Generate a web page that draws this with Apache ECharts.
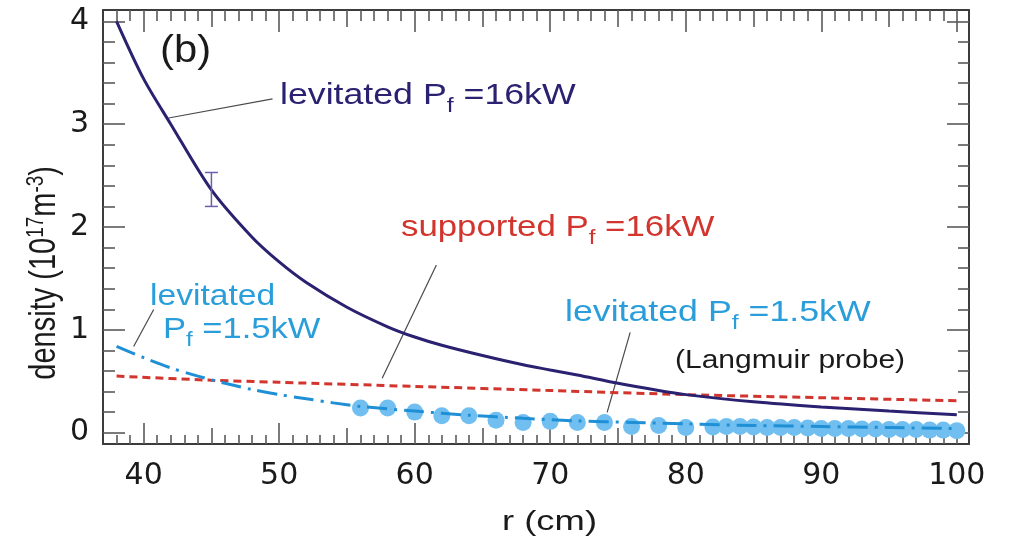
<!DOCTYPE html>
<html>
<head>
<meta charset="utf-8">
<script src="https://cdn.jsdelivr.net/npm/echarts@6/dist/echarts.min.js"></script>
<style>
  html, body { margin: 0; padding: 0; background: #ffffff; }
  #chart { width: 1009px; height: 536px; }
</style>
</head>
<body>
<div id="chart"></div>
<script>
// Radial density profiles, r in cm, density in 1e17 m^-3

// levitated, Pf = 16 kW (solid)
const rLev16 = [38, 40, 42, 45, 48, 50, 52, 55, 58, 60, 62, 65, 68, 70, 72, 75, 78, 80, 85, 90, 95, 100];
const nLev16 = [4.00, 3.44, 3.00, 2.36, 1.90, 1.66, 1.46, 1.22, 1.03, 0.93, 0.85, 0.75, 0.66, 0.61, 0.56, 0.48, 0.41, 0.37, 0.30, 0.25, 0.21, 0.175];

// supported, Pf = 16 kW (dashed)
const rSup16 = [38, 45, 50, 60, 70, 80, 90, 100];
const nSup16 = [0.55, 0.51, 0.49, 0.45, 0.41, 0.37, 0.34, 0.31];

// levitated, Pf = 1.5 kW (dash-dot)
const rLev15 = [38, 40, 42, 44, 46, 48, 50, 52, 54, 56, 60, 64, 68, 72, 76, 80, 85, 90, 95, 100];
const nLev15 = [0.84, 0.73, 0.63, 0.55, 0.48, 0.42, 0.37, 0.33, 0.29, 0.255, 0.21, 0.17, 0.14, 0.115, 0.10, 0.085, 0.07, 0.06, 0.05, 0.04];

// levitated, Pf = 1.5 kW, Langmuir probe points
const rProbe = [56, 58, 60, 62, 64, 66, 68, 70, 72, 74, 76, 78, 80, 82, 83, 84, 85, 86, 87, 88, 89, 90, 91, 92, 93, 94, 95, 96, 97, 98, 99, 100];
const nProbe = [0.24, 0.24, 0.20, 0.165, 0.165, 0.12, 0.10, 0.11, 0.10, 0.10, 0.06, 0.07, 0.05, 0.055, 0.06, 0.06, 0.055, 0.05, 0.05, 0.05, 0.045, 0.04, 0.04, 0.04, 0.035, 0.035, 0.03, 0.03, 0.03, 0.025, 0.025, 0.02];

// error bar on the 16 kW levitated profile: [r, low, high]
const errBar = [[45, 2.20, 2.53]];

// tick values
const xMajorTicks = [40, 50, 60, 70, 80, 90, 100];
const xMidTicks = [45, 55, 65, 75, 85, 95];
const yMajorTicks = [0, 1, 2, 3, 4];

const X_MIN = 37, X_MAX = 100.9, Y_MIN = -0.11, Y_MAX = 4.11;

const xMinorTicks = [];
for (let v = 38; v <= 100; v++) if (v % 5 !== 0) xMinorTicks.push(v);
const yMinorTicks = [];
for (let k = 0; k <= 20; k++) { const v = +(k * 0.2).toFixed(1); if (k % 5 !== 0) yMinorTicks.push(v); }

const TICK_FONT = 'DejaVu Sans';
const FONT = 'Liberation Sans';
const AXIS_COLOR = '#3c3c3c';
const TICK_COLOR = '#5a5a5a';
const INK = '#1a1a1a';

function pairs(xs, ys) { return xs.map((x, i) => [x, ys[i]]); }

function xAxisDef(position, ticks, len, withLabels, lineShow) {
  return {
    type: 'value', min: X_MIN, max: X_MAX, position: position,
    axisLine: { show: lineShow, onZero: false, lineStyle: { color: AXIS_COLOR, width: 2 } },
    axisTick: { show: true, inside: true, length: len, customValues: ticks,
                lineStyle: { color: TICK_COLOR, width: 1.6 } },
    axisLabel: withLabels ? {
      show: true, customValues: xMajorTicks, margin: 17,
      fontFamily: TICK_FONT, fontSize: 30, color: INK
    } : { show: false },
    splitLine: { show: false }
  };
}

function yAxisDef(position, ticks, len, withLabels, lineShow) {
  return {
    type: 'value', min: Y_MIN, max: Y_MAX, position: position,
    axisLine: { show: lineShow, onZero: false, lineStyle: { color: AXIS_COLOR, width: 2 } },
    axisTick: { show: true, inside: true, length: len, customValues: ticks,
                lineStyle: { color: TICK_COLOR, width: 1.6 } },
    axisLabel: withLabels ? {
      show: true, customValues: yMajorTicks, margin: 14,
      fontFamily: TICK_FONT, fontSize: 30, color: INK
    } : { show: false },
    splitLine: { show: false }
  };
}

function leader(p, q) {
  return {
    type: 'line', data: [p, q], symbol: 'none', silent: true, z: 1,
    lineStyle: { color: '#4a4a4a', width: 1.2 }
  };
}

// annotation with a subscript "f"; the printed face is a widened sans
function richLabel(x, y, text, color, sx) {
  return {
    type: 'text', left: x, top: y, scaleX: sx, silent: true,
    style: {
      text: text, fontFamily: FONT, fontSize: 30, fill: color,
      rich: {
        base: { fontFamily: FONT, fontSize: 30, lineHeight: 42, fill: color },
        sub: { fontFamily: FONT, fontSize: 21, lineHeight: 21, fill: color, verticalAlign: 'bottom' }
      }
    }
  };
}

function plainLabel(x, y, text, color, size, sx) {
  return {
    type: 'text', left: x, top: y, scaleX: sx, silent: true,
    style: { text: text, fontFamily: FONT, fontSize: size, fill: color }
  };
}

const NAVY = '#2a2170';
const RED = '#d2352d';
const BLUE_TXT = '#2a9edb';
const BLUE_LINE = '#1f90d6';
const BLUE_DOT = '#70bff0';

const chart = echarts.init(document.getElementById('chart'), null, { renderer: 'canvas' });

chart.setOption({
  animation: false,
  backgroundColor: '#ffffff',
  grid: { left: 103, right: 40, top: 10, bottom: 92, containLabel: false },
  xAxis: [
    xAxisDef('bottom', xMajorTicks, 21, true, true),
    xAxisDef('bottom', xMidTicks, 16, false, false),
    xAxisDef('bottom', xMinorTicks, 9, false, false),
    xAxisDef('top', xMajorTicks, 22, false, true),
    xAxisDef('top', xMidTicks, 17, false, false),
    xAxisDef('top', xMinorTicks, 11, false, false)
  ],
  yAxis: [
    yAxisDef('left', yMajorTicks, 22, true, true),
    yAxisDef('left', yMinorTicks, 12, false, false),
    yAxisDef('right', yMajorTicks, 22, false, true),
    yAxisDef('right', yMinorTicks, 11, false, false)
  ],
  series: [
    {
      name: 'probe', type: 'scatter', data: pairs(rProbe, nProbe),
      symbol: 'circle', symbolSize: 17, z: 2,
      itemStyle: { color: BLUE_DOT, opacity: 1 }
    },
    {
      name: 'supported 16kW', type: 'line', data: pairs(rSup16, nSup16),
      showSymbol: false, smooth: 0.3, z: 3,
      lineStyle: { color: RED, width: 3, type: [8, 5] }
    },
    {
      name: 'levitated 1.5kW', type: 'line', data: pairs(rLev15, nLev15),
      showSymbol: false, smooth: 0.3, z: 4,
      lineStyle: { color: BLUE_LINE, width: 3, type: [20, 7, 3, 7] }
    },
    {
      name: 'levitated 16kW', type: 'line', data: pairs(rLev16, nLev16),
      showSymbol: false, smooth: 0.3, z: 5,
      lineStyle: { color: NAVY, width: 3 }
    },
    {
      name: 'error', type: 'custom', data: errBar, z: 6,
      encode: { x: 0, y: [1, 2] },
      renderItem: function (params, api) {
        const lo = api.coord([api.value(0), api.value(1)]);
        const hi = api.coord([api.value(0), api.value(2)]);
        const w = 6.5;
        const st = { stroke: '#6c5fae', lineWidth: 1.5 };
        return {
          type: 'group',
          children: [
            { type: 'line', shape: { x1: lo[0], y1: lo[1], x2: hi[0], y2: hi[1] }, style: st },
            { type: 'line', shape: { x1: lo[0] - w, y1: lo[1], x2: lo[0] + w, y2: lo[1] }, style: st },
            { type: 'line', shape: { x1: hi[0] - w, y1: hi[1], x2: hi[0] + w, y2: hi[1] }, style: st }
          ]
        };
      }
    },
    leader([41.84, 3.06], [49.51, 3.245]),
    leader([61.6, 1.63], [57.6, 0.53]),
    leader([40.74, 1.197], [39.26, 0.838]),
    leader([75.9, 0.975], [74.2, 0.197])
  ],
  graphic: [
    plainLabel(160, 33, '(b)', INK, 38, 1.1),
    richLabel(280, 81, '{base|levitated P}{sub|f}{base| =16kW}', NAVY, 1.19),
    richLabel(401, 213, '{base|supported P}{sub|f}{base| =16kW}', RED, 1.16),
    plainLabel(150, 282, 'levitated', BLUE_TXT, 30, 1.12),
    richLabel(163, 315, '{base|P}{sub|f}{base| =1.5kW}', BLUE_TXT, 1.15),
    richLabel(565, 298, '{base|levitated P}{sub|f}{base| =1.5kW}', BLUE_TXT, 1.19),
    plainLabel(675, 349, '(Langmuir probe)', INK, 25, 1.2),
    { type: 'text', left: 24, top: 166, rotation: Math.PI / 2, scaleY: 1.3, silent: true,
      style: {
        text: 'density (10{sup|17}m{sup|-3})',
        fontFamily: FONT, fontSize: 29, fill: INK,
        rich: { sup: { fontFamily: FONT, fontSize: 19, fill: INK, padding: [0, 0, 12, 0] } }
      } },
    plainLabel(502, 508, 'r (cm)', INK, 28, 1.3)
  ]
});
</script>
</body>
</html>
